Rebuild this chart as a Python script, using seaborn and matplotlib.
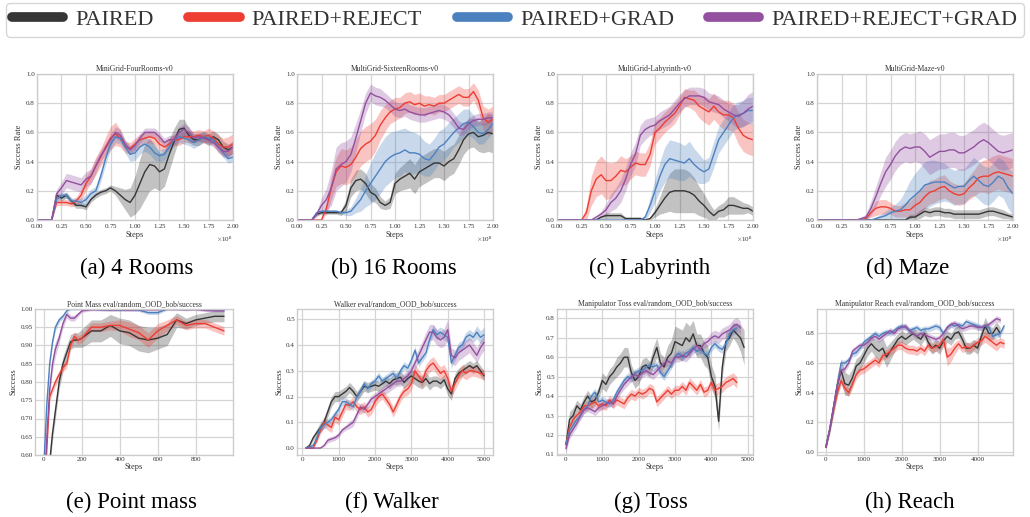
import numpy as np
import pandas as pd
import matplotlib
matplotlib.use("Agg")
import matplotlib.pyplot as plt
import seaborn as sns
from matplotlib.ticker import MultipleLocator, FormatStrFormatter
from matplotlib.lines import Line2D

METHODS = ["PAIRED", "PAIRED+REJECT", "PAIRED+GRAD", "PAIRED+REJECT+GRAD"]
COLORS = ["#363636", "#ee3d33", "#4c81c0", "#92509f"]

# ---------------- top row: steps 0 .. 2e8 every 0.05e8 (41 samples) ----------------
TOP_STEPS = np.linspace(0, 2e8, 41)

A_BLACK = [0, 0, 0, 0, .17, .15, .17, .13, .10, .10,
           .09, .14, .17, .19, .20, .22, .20, .17, .14, .12,
           .17, .25, .33, .38, .37, .33, .35, .45, .54, .62,
           .63, .58, .55, .55, .57, .55, .57, .55, .50, .48, .50]
A_BLACK_SD = [0, 0, 0, 0, .02, .02, .02, .02, .02, .02,
              .02, .02, .02, .02, .02, .02, .03, .05, .07, .10,
              .13, .17, .19, .18, .15, .13, .12, .11, .09, .07,
              .06, .05, .04, .04, .04, .04, .04, .04, .04, .04, .04]
A_RED = [0, 0, 0, 0, .12, .12, .12, .11, .13, .17,
         .25, .30, .37, .43, .50, .56, .59, .56, .50, .49,
         .52, .55, .56, .57, .56, .52, .50, .52, .55, .55,
         .57, .57, .57, .58, .57, .58, .56, .52, .50, .50, .52]
A_RED_SD = [0, 0, 0, 0, .02, .02, .02, .02, .03, .04,
            .05, .05, .06, .06, .07, .08, .08, .06, .04, .04,
            .04, .04, .04, .04, .04, .04, .04, .04, .04, .04,
            .04, .04, .04, .04, .04, .05, .05, .06, .06, .07, .07]
A_BLUE = [0, 0, 0, 0, .14, .17, .17, .13, .13, .12,
          .14, .18, .20, .30, .42, .52, .57, .56, .50, .45,
          .46, .50, .52, .50, .46, .44, .45, .50, .55, .57,
          .56, .55, .53, .55, .57, .56, .55, .50, .46, .42, .43]
A_BLUE_SD = [0, 0, 0, 0, .02, .02, .02, .02, .02, .03,
             .03, .03, .03, .04, .04, .04, .04, .04, .04, .05,
             .05, .05, .05, .05, .05, .04, .04, .04, .04, .04,
             .04, .04, .04, .04, .03, .03, .03, .03, .03, .03, .03]
A_PURPLE = [0, 0, 0, 0, .18, .22, .27, .26, .25, .24,
            .28, .30, .37, .44, .49, .55, .60, .58, .52, .48,
            .51, .56, .60, .60, .60, .57, .53, .55, .55, .60,
            .62, .60, .56, .57, .56, .55, .53, .50, .47, .47, .50]
A_PURPLE_SD = [0, 0, 0, 0, .03, .04, .05, .05, .05, .05,
               .05, .05, .05, .04, .04, .04, .04, .04, .03, .03,
               .03, .03, .03, .03, .03, .03, .03, .03, .03, .04,
               .04, .04, .03, .03, .03, .03, .03, .03, .04, .04, .04]

B_BLACK = [0, 0, 0, 0, .04, .05, .05, .05, .05, .05,
           .10, .22, .27, .28, .25, .19, .17, .12, .10, .12,
           .25, .28, .30, .32, .28, .33, .35, .37, .39, .39,
           .37, .40, .42, .48, .55, .59, .60, .57, .58, .60, .59]
B_BLACK_SD = [0, 0, 0, 0, .01, .01, .01, .01, .01, .02,
              .04, .06, .07, .07, .07, .06, .05, .04, .03, .04,
              .07, .08, .09, .10, .10, .10, .10, .10, .10, .10,
              .10, .10, .10, .10, .10, .10, .10, .10, .12, .13, .13]
B_RED = [0, 0, 0, 0, 0, 0, .08, .22, .33, .37,
         .36, .38, .43, .49, .52, .54, .58, .65, .70, .74,
         .76, .77, .80, .81, .79, .80, .78, .79, .78, .80,
         .80, .82, .84, .86, .84, .84, .88, .82, .70, .67, .69]
B_RED_SD = [0, 0, 0, 0, 0, 0, .04, .08, .10, .12,
            .12, .12, .12, .12, .12, .12, .11, .10, .09, .08,
            .08, .07, .07, .07, .07, .07, .07, .06, .06, .06,
            .06, .06, .06, .06, .06, .06, .06, .07, .08, .09, .09]
B_BLUE = [0, 0, 0, 0, .05, .06, .06, .06, .06, .05,
          .05, .06, .10, .14, .20, .25, .30, .35, .40, .43,
          .45, .46, .48, .46, .46, .45, .42, .41, .45, .50,
          .52, .56, .60, .63, .66, .67, .64, .60, .59, .62, .66]
B_BLUE_SD = [0, 0, 0, 0, .01, .01, .01, .01, .01, .01,
             .02, .03, .05, .08, .11, .14, .16, .17, .17, .17,
             .16, .16, .15, .15, .14, .13, .12, .11, .11, .11,
             .11, .11, .10, .10, .10, .09, .08, .08, .07, .06, .06]
B_PURPLE = [0, 0, 0, 0, .04, .10, .14, .22, .35, .38,
            .40, .45, .56, .68, .80, .87, .85, .84, .82, .79,
            .76, .75, .76, .74, .73, .72, .72, .73, .74, .75,
            .74, .72, .68, .63, .62, .66, .68, .69, .69, .70, .70]
B_PURPLE_SD = [0, 0, 0, 0, .02, .05, .08, .12, .15, .15,
               .14, .12, .10, .08, .07, .06, .06, .06, .05, .05,
               .05, .05, .05, .05, .05, .05, .05, .05, .05, .05,
               .05, .05, .05, .05, .04, .04, .04, .04, .04, .04, .04]

C_BLACK = [0, 0, 0, 0, 0, 0, 0, 0, 0, .02,
           .03, .03, .03, .03, .01, .01, .01, .01, 0, .01,
           .05, .10, .15, .19, .20, .20, .20, .19, .17, .13,
           .10, .06, .03, .06, .07, .10, .10, .09, .08, .08, .06]
C_BLACK_SD = [0, 0, 0, 0, 0, 0, 0, 0, 0, .01,
              .02, .02, .02, .02, .01, .01, .01, .01, 0, .01,
              .03, .06, .10, .13, .15, .15, .15, .14, .12, .10,
              .08, .06, .04, .04, .05, .06, .06, .05, .04, .03, .03]
C_RED = [0, 0, 0, 0, 0, 0, .05, .20, .28, .31,
         .27, .27, .30, .34, .33, .36, .39, .38, .38, .45,
         .60, .63, .67, .70, .73, .78, .84, .83, .82, .78,
         .76, .74, .78, .74, .72, .72, .70, .63, .58, .56, .55]
C_RED_SD = [0, 0, 0, 0, 0, 0, .05, .10, .12, .13,
            .13, .12, .10, .10, .09, .08, .08, .08, .08, .08,
            .08, .07, .07, .07, .07, .06, .06, .06, .07, .08,
            .09, .09, .09, .09, .10, .10, .10, .11, .11, .11, .11]
C_BLUE = [0, 0, 0, 0, 0, 0, 0, 0, 0, 0,
          0, 0, 0, 0, 0, 0, 0, 0, .02, .10,
          .20, .30, .38, .42, .41, .40, .39, .42, .38, .35,
          .33, .35, .45, .55, .60, .65, .70, .72, .73, .75, .75]
C_BLUE_SD = [0, 0, 0, 0, 0, 0, 0, 0, 0, 0,
             0, 0, 0, 0, 0, 0, 0, 0, .02, .05,
             .08, .10, .12, .13, .13, .13, .12, .12, .11, .10,
             .08, .08, .09, .09, .09, .09, .09, .09, .09, .09, .09]
C_PURPLE = [0, 0, 0, 0, 0, 0, 0, 0, .02, .04,
            .07, .12, .15, .20, .28, .38, .45, .58, .62, .64,
            .65, .68, .70, .72, .76, .80, .83, .85, .85, .85,
            .84, .81, .80, .79, .76, .74, .72, .71, .73, .76, .78]
C_PURPLE_SD = [0, 0, 0, 0, 0, 0, 0, 0, .01, .02,
               .04, .06, .07, .08, .08, .08, .08, .07, .07, .06,
               .06, .06, .06, .06, .06, .06, .06, .06, .06, .06,
               .06, .06, .06, .06, .06, .06, .07, .08, .09, .10, .10]

D_BLACK = [0, 0, 0, 0, 0, 0, 0, 0, 0, 0,
           0, 0, 0, 0, 0, 0, 0, 0, 0, .02,
           .02, .04, .06, .05, .06, .06, .05, .05, .04, .04,
           .04, .04, .04, .04, .05, .06, .06, .05, .04, .03, .02]
D_BLACK_SD = [0, 0, 0, 0, 0, 0, 0, 0, 0, 0,
              0, 0, 0, 0, 0, 0, 0, 0, .01, .02,
              .02, .03, .03, .03, .03, .03, .03, .03, .03, .03,
              .03, .03, .03, .03, .03, .03, .03, .03, .03, .02, .02]
D_RED = [0, 0, 0, 0, 0, 0, 0, 0, 0, 0,
         .01, .05, .08, .09, .09, .08, .06, .06, .07, .07,
         .10, .12, .16, .19, .20, .22, .23, .20, .18, .17,
         .18, .22, .25, .29, .30, .30, .32, .33, .32, .31, .30]
D_RED_SD = [0, 0, 0, 0, 0, 0, 0, 0, 0, 0,
            .01, .03, .05, .05, .05, .04, .04, .04, .05, .06,
            .07, .08, .08, .08, .08, .08, .08, .07, .07, .07,
            .07, .08, .09, .10, .11, .12, .12, .12, .12, .12, .12]
D_BLUE = [0, 0, 0, 0, 0, 0, 0, 0, 0, 0,
          0, 0, .01, .02, .03, .05, .06, .07, .10, .14,
          .17, .20, .24, .25, .26, .26, .26, .24, .22, .23,
          .23, .27, .30, .27, .24, .23, .26, .30, .28, .22, .18]
D_BLUE_SD = [0, 0, 0, 0, 0, 0, 0, 0, 0, 0,
             0, 0, .01, .02, .03, .04, .05, .07, .10, .13,
             .15, .16, .16, .16, .15, .14, .13, .12, .12, .12,
             .12, .12, .13, .13, .13, .13, .13, .13, .13, .14, .15]
D_PURPLE = [0, 0, 0, 0, 0, 0, 0, 0, 0, .01,
            .02, .08, .16, .25, .33, .38, .44, .48, .50, .49,
            .50, .50, .47, .43, .45, .47, .47, .48, .48, .46,
            .46, .48, .50, .53, .55, .53, .50, .47, .46, .47, .48]
D_PURPLE_SD = [0, 0, 0, 0, 0, 0, 0, 0, 0, .01,
               .02, .05, .07, .08, .10, .10, .10, .10, .10, .10,
               .10, .11, .12, .12, .12, .12, .12, .12, .12, .12,
               .12, .12, .12, .12, .12, .12, .12, .12, .12, .12, .12]

# ---------------- (e) Point mass ----------------
E_STEPS = [0, 15, 30, 45, 60, 80, 100, 120, 140, 160, 180, 200, 250, 300,
           350, 400, 450, 500, 550, 600, 650, 700, 750, 800, 850, 900, 950]
E_BLACK = [.35, .45, .58, .66, .72, .80, .85, .88, .91, .915, .915, .92, .94, .94,
           .955, .94, .935, .92, .915, .92, .93, .97, .96, .97, .975, .98, .98]
E_BLACK_SD = [.02, .02, .02, .02, .02, .02, .02, .02, .02, .02, .02, .025, .03, .03,
              .03, .035, .035, .035, .035, .03, .03, .02, .015, .015, .015, .015, .015]
E_RED = [.45, .62, .76, .78, .80, .82, .84, .85, .90, .925, .915, .92, .95, .95,
         .955, .955, .945, .935, .915, .94, .955, .97, .955, .96, .96, .95, .94]
E_RED_SD = [.01, .01, .01, .01, .012, .012, .012, .012, .012, .012, .012, .012, .012, .012,
            .012, .015, .02, .02, .02, .02, .015, .012, .012, .012, .012, .012, .012]
E_BLUE = [.58, .74, .85, .91, .95, .97, .98, .995, 1.0, 1.0, 1.0, 1.0, 1.0, .998,
          .998, .997, .998, .997, .99, .99, 1.0, 1.0, 1.0, 1.0, 1.0, .997, .996]
E_BLUE_SD = [.01, .01, .01, .01, .01, .008, .006, .004, .003, .003, .003, .003, .003, .003,
             .003, .003, .003, .004, .005, .005, .003, .003, .003, .003, .003, .003, .003]
E_PURPLE = [.50, .65, .78, .85, .89, .92, .96, .985, .975, .975, .985, .995, .998, .998,
            .997, .998, .997, .998, .998, .998, .999, .999, .998, .999, .996, .995, .995]
E_PURPLE_SD = [.02, .02, .02, .02, .02, .015, .012, .01, .008, .008, .006, .004, .003, .003,
               .003, .003, .003, .003, .003, .003, .003, .003, .003, .003, .003, .003, .003]

# ---------------- (f) Walker ----------------
F_STEPS = list(range(100, 5001, 100))
F_BLACK = [0, .01, .04, .06, .08, .10, .14, .18, .20, .20,
           .21, .22, .235, .22, .20, .22, .24, .235, .24, .245,
           .24, .25, .26, .25, .265, .27, .275, .255, .27, .28,
           .27, .26, .255, .27, .25, .26, .26, .25, .265, .23,
           .21, .27, .29, .30, .31, .32, .31, .32, .30, .28]
F_BLACK_SD = [0, .005, .01, .015, .02, .02, .02, .02, .02, .02,
              .02, .02, .02, .02, .02, .02, .02, .02, .02, .02,
              .02, .02, .02, .02, .02, .025, .025, .025, .025, .025,
              .025, .025, .025, .025, .025, .02, .02, .02, .02, .025,
              .025, .02, .02, .02, .02, .02, .02, .02, .02, .02]
F_RED = [0, 0, 0, .03, .07, .10, .09, .08, .12, .11,
         .14, .17, .165, .18, .16, .15, .16, .14, .15, .18,
         .20, .21, .19, .17, .14, .17, .20, .22, .23, .25,
         .30, .28, .26, .30, .32, .33, .31, .29, .30, .27,
         .22, .25, .28, .30, .29, .30, .30, .295, .29, .285]
F_RED_SD = [0, 0, 0, .01, .015, .02, .02, .02, .02, .02,
            .02, .02, .02, .02, .02, .02, .02, .02, .02, .02,
            .02, .02, .02, .02, .02, .02, .02, .02, .025, .025,
            .025, .025, .025, .025, .025, .025, .025, .025, .025, .025,
            .025, .025, .025, .025, .025, .025, .02, .02, .02, .02]
F_BLUE = [0, .005, .01, .04, .08, .09, .10, .11, .13, .15,
          .18, .18, .17, .16, .20, .22, .25, .23, .25, .26,
          .28, .26, .27, .28, .29, .27, .30, .32, .31, .34,
          .38, .33, .35, .37, .42, .46, .44, .45, .44, .43,
          .33, .36, .39, .40, .43, .44, .43, .45, .43, .44]
F_BLUE_SD = [0, .005, .01, .01, .015, .015, .015, .015, .015, .015,
             .015, .015, .015, .015, .015, .015, .015, .015, .015, .015,
             .015, .015, .015, .015, .015, .015, .015, .015, .015, .015,
             .015, .015, .015, .015, .02, .02, .02, .02, .02, .02,
             .02, .02, .02, .02, .02, .02, .02, .025, .025, .03]
F_PURPLE = [0, 0, 0, 0, 0, .01, .03, .035, .04, .05,
            .07, .08, .09, .10, .13, .16, .15, .17, .19, .20,
            .21, .22, .23, .24, .25, .26, .26, .27, .28, .30,
            .33, .36, .39, .42, .45, .45, .43, .42, .43, .46,
            .36, .35, .37, .38, .39, .40, .38, .36, .39, .41]
F_PURPLE_SD = [0, 0, 0, 0, 0, .005, .01, .01, .01, .01,
               .01, .01, .015, .015, .015, .015, .015, .015, .015, .015,
               .015, .015, .02, .02, .02, .02, .02, .02, .02, .02,
               .025, .025, .025, .03, .03, .03, .03, .03, .035, .04,
               .03, .03, .03, .03, .03, .03, .03, .03, .03, .03]

# ---------------- (g) Toss ----------------
G_STEPS = list(range(0, 4901, 100))
G_BLACK = [.15, .28, .30, .35, .33, .37, .40, .37, .38, .42,
           .48, .46, .50, .52, .55, .57, .60, .60, .52, .48,
           .50, .55, .56, .54, .60, .65, .57, .55, .60, .62,
           .68, .67, .66, .70, .68, .72, .66, .66, .62, .60,
           .50, .45, .27, .55, .68, .70, .74, .72, .70, .65]
G_BLACK_SD = [.03, .04, .04, .03, .03, .03, .03, .03, .03, .03,
              .04, .04, .04, .04, .05, .05, .05, .05, .04, .04,
              .04, .04, .04, .04, .05, .05, .05, .05, .06, .07,
              .08, .08, .08, .08, .08, .07, .06, .06, .06, .06,
              .06, .06, .05, .05, .05, .04, .04, .05, .07, .09]
G_RED = [.15, .24, .28, .30, .32, .35, .35, .36, .37, .35,
         .36, .35, .38, .36, .38, .37, .36, .39, .41, .40,
         .42, .41, .42, .44, .43, .37, .39, .41, .43, .41,
         .43, .43, .45, .43, .47, .45, .43, .46, .42, .43,
         .47, .43, .44, .45, .47, .48, .49, .47]
G_RED_SD = [.02, .02, .02, .02, .02, .025, .025, .025, .025, .025,
            .025, .025, .025, .025, .025, .025, .025, .025, .025, .025,
            .025, .025, .025, .025, .025, .025, .025, .025, .025, .025,
            .025, .025, .025, .025, .025, .025, .025, .025, .025, .025,
            .03, .03, .03, .03, .03, .03, .03, .03]
G_BLUE = [.15, .22, .25, .28, .30, .33, .35, .40, .42, .37,
          .38, .37, .36, .38, .42, .45, .48, .50, .49, .52,
          .53, .53, .55, .56, .55, .56, .52, .50, .53, .56,
          .60, .62, .60, .62, .63, .65, .63, .64, .62, .61,
          .65, .67, .65, .64, .67, .72, .74, .75]
G_BLUE_SD = [.02, .02, .02, .02, .02, .02, .02, .02, .02, .02,
             .02, .02, .02, .02, .02, .02, .02, .02, .02, .02,
             .02, .02, .02, .02, .02, .02, .02, .02, .02, .02,
             .02, .02, .02, .02, .02, .02, .02, .02, .02, .02,
             .02, .02, .02, .02, .025, .025, .025, .025]
G_PURPLE = [.13, .20, .23, .26, .30, .33, .34, .33, .32, .34,
            .35, .36, .37, .36, .40, .43, .46, .48, .50, .51,
            .50, .52, .53, .52, .51, .53, .55, .57, .58, .57,
            .60, .60, .61, .60, .62, .64, .66, .64, .67, .68,
            .70, .71, .70, .72, .73, .74, .76, .77, .75]
G_PURPLE_SD = [.02, .02, .02, .02, .02, .02, .02, .02, .02, .02,
               .02, .02, .02, .02, .02, .02, .025, .025, .025, .025,
               .025, .025, .025, .025, .025, .025, .025, .025, .025, .025,
               .025, .025, .025, .025, .025, .025, .025, .025, .025, .025,
               .03, .03, .03, .03, .03, .03, .035, .035, .035]

# ---------------- (h) Reach ----------------
H_STEPS = list(range(0, 4701, 100))
H_BLACK = [.03, .15, .30, .45, .55, .46, .45, .50, .58, .60,
           .65, .70, .73, .70, .68, .70, .64, .68, .72, .76,
           .78, .76, .78, .80, .78, .76, .80, .74, .70, .72,
           .70, .75, .78, .76, .80, .81, .76, .70, .70, .72,
           .70, .78, .85, .80, .80, .84, .80]
H_BLACK_SD = [.01, .03, .05, .07, .08, .08, .07, .06, .05, .05,
              .05, .05, .05, .06, .07, .07, .07, .06, .05, .04,
              .04, .04, .04, .04, .04, .04, .04, .04, .04, .04,
              .04, .04, .04, .04, .04, .04, .04, .04, .04, .04,
              .04, .05, .06, .05, .04, .04, .04]
H_RED = [.03, .15, .28, .40, .48, .43, .40, .46, .52, .55,
         .56, .58, .60, .62, .60, .65, .66, .68, .70, .72,
         .72, .70, .69, .69, .68, .70, .68, .72, .70, .71,
         .72, .76, .64, .66, .70, .73, .70, .71, .70, .72,
         .74, .75, .78, .76, .74, .72, .74, .73]
H_RED_SD = [.01, .02, .03, .03, .03, .03, .03, .03, .03, .03,
            .03, .03, .03, .03, .03, .03, .03, .03, .03, .03,
            .03, .03, .03, .03, .03, .03, .03, .03, .03, .03,
            .03, .04, .06, .05, .04, .03, .03, .03, .03, .03,
            .03, .03, .04, .04, .04, .04, .03, .03]
H_BLUE = [.04, .15, .30, .45, .60, .60, .62, .66, .67, .70,
          .74, .76, .78, .80, .78, .80, .81, .80, .82, .84,
          .85, .84, .82, .83, .84, .82, .83, .83, .84, .85,
          .84, .80, .84, .86, .85, .86, .85, .88, .87, .86,
          .85, .84, .85, .84, .78, .79, .80, .85]
H_BLUE_SD = [.01, .015, .02, .02, .02, .02, .02, .02, .02, .02,
             .02, .02, .02, .02, .02, .02, .02, .02, .02, .02,
             .02, .02, .02, .02, .02, .02, .02, .02, .02, .02,
             .02, .02, .02, .02, .02, .02, .02, .02, .02, .02,
             .02, .02, .02, .02, .02, .02, .02, .02]
H_PURPLE = [.03, .15, .30, .45, .55, .56, .60, .68, .70, .72,
            .72, .74, .77, .78, .76, .78, .80, .82, .80, .83,
            .84, .85, .82, .80, .78, .80, .79, .78, .77, .76,
            .77, .80, .84, .86, .87, .85, .83, .84, .85, .85,
            .84, .84, .85, .86, .88, .90, .89]
H_PURPLE_SD = [.01, .015, .02, .02, .02, .02, .02, .02, .02, .02,
               .02, .02, .02, .02, .02, .02, .02, .02, .02, .02,
               .02, .02, .02, .02, .02, .02, .02, .02, .02, .02,
               .02, .02, .02, .02, .02, .02, .02, .02, .02, .02,
               .02, .02, .02, .02, .02, .02, .02]

PANELS = [
    dict(title="MiniGrid-FourRooms-v0", caption="(a) 4 Rooms", steps=TOP_STEPS,
         series=[(A_BLACK, A_BLACK_SD), (A_RED, A_RED_SD), (A_BLUE, A_BLUE_SD), (A_PURPLE, A_PURPLE_SD)]),
    dict(title="MultiGrid-SixteenRooms-v0", caption="(b) 16 Rooms", steps=TOP_STEPS,
         series=[(B_BLACK, B_BLACK_SD), (B_RED, B_RED_SD), (B_BLUE, B_BLUE_SD), (B_PURPLE, B_PURPLE_SD)]),
    dict(title="MultiGrid-Labyrinth-v0", caption="(c) Labyrinth", steps=TOP_STEPS,
         series=[(C_BLACK, C_BLACK_SD), (C_RED, C_RED_SD), (C_BLUE, C_BLUE_SD), (C_PURPLE, C_PURPLE_SD)]),
    dict(title="MultiGrid-Maze-v0", caption="(d) Maze", steps=TOP_STEPS,
         series=[(D_BLACK, D_BLACK_SD), (D_RED, D_RED_SD), (D_BLUE, D_BLUE_SD), (D_PURPLE, D_PURPLE_SD)]),
    dict(title="Point Mass eval/random_OOD_bob/success", caption="(e) Point mass", steps=E_STEPS,
         series=[(E_BLACK, E_BLACK_SD), (E_RED, E_RED_SD), (E_BLUE, E_BLUE_SD), (E_PURPLE, E_PURPLE_SD)]),
    dict(title="Walker eval/random_OOD_bob/success", caption="(f) Walker", steps=F_STEPS,
         series=[(F_BLACK, F_BLACK_SD), (F_RED, F_RED_SD), (F_BLUE, F_BLUE_SD), (F_PURPLE, F_PURPLE_SD)]),
    dict(title="Manipulator Toss eval/random_OOD_bob/success", caption="(g) Toss", steps=G_STEPS,
         series=[(G_BLACK, G_BLACK_SD), (G_RED, G_RED_SD), (G_BLUE, G_BLUE_SD), (G_PURPLE, G_PURPLE_SD)]),
    dict(title="Manipulator Reach eval/random_OOD_bob/success", caption="(h) Reach", steps=H_STEPS,
         series=[(H_BLACK, H_BLACK_SD), (H_RED, H_RED_SD), (H_BLUE, H_BLUE_SD), (H_PURPLE, H_PURPLE_SD)]),
]

sns.set_theme(style="whitegrid")
plt.rcParams.update({
    "font.family": "serif",
    "font.serif": ["Liberation Serif", "DejaVu Serif"],
    "mathtext.fontset": "cm",
    "axes.edgecolor": "#cccccc",
    "axes.linewidth": 1.0,
    "grid.color": "#d5d5d5",
    "grid.linewidth": 0.9,
    "text.color": "#333333",
    "xtick.color": "#333333",
    "ytick.color": "#333333",
    "axes.labelcolor": "#333333",
})

W, H = 1030, 517
fig = plt.figure(figsize=(W / 100, H / 100), dpi=100)

# pixel boxes: (left, top, right, bottom)
BOXES = [(37, 74, 233, 220), (297, 74, 493, 220), (557, 74, 753, 220), (817, 74, 1013, 220),
         (35, 309, 233, 455), (297, 309, 493, 455), (557, 309, 753, 455), (817, 309, 1013, 455)]
CAP_POS = [(137, 268), (394, 268), (650, 268), (908, 268),
           (131, 502), (392, 502), (651, 502), (910, 502)]

for i, (p, box) in enumerate(zip(PANELS, BOXES)):
    l, t, r, b = box
    ax = fig.add_axes([l / W, 1 - b / H, (r - l) / W, (b - t) / H])
    steps = np.asarray(p["steps"], dtype=float)
    for (mean, sd), col, name in zip(p["series"], COLORS, METHODS):
        mean = np.asarray(mean, dtype=float)
        sd = np.asarray(sd, dtype=float)
        x = steps[:len(mean)]
        ax.fill_between(x, mean - sd, mean + sd, color=col, alpha=0.3, linewidth=0)
        df = pd.DataFrame({"Steps": x, "value": mean})
        sns.lineplot(data=df, x="Steps", y="value", color=col, linewidth=1.0, ax=ax, legend=False)
    ax.set_title(p["title"], fontsize=5.5, pad=2)
    ax.set_xlabel("Steps", fontsize=6, labelpad=0.5)
    ax.tick_params(labelsize=5, pad=1.5, length=0)
    if i < 4:
        ax.set_ylabel("Success Rate", fontsize=6, labelpad=2)
        ax.set_xlim(0, 2e8)
        ax.set_ylim(0, 1.0)
        ax.xaxis.set_major_locator(MultipleLocator(0.25e8))
        ax.yaxis.set_major_locator(MultipleLocator(0.2))
        ax.ticklabel_format(axis="x", style="sci", scilimits=(0, 0), useMathText=True)
        ax.xaxis.get_offset_text().set_fontsize(5)
        ax.yaxis.set_major_formatter(FormatStrFormatter("%.1f"))
    else:
        ax.set_ylabel("Success", fontsize=6, labelpad=2)
    if i == 4:
        ax.set_xlim(-47.5, 997.5)
        ax.set_ylim(0.6, 1.0)
        ax.xaxis.set_major_locator(MultipleLocator(200))
        ax.yaxis.set_major_locator(MultipleLocator(0.05))
        ax.yaxis.set_major_formatter(FormatStrFormatter("%.2f"))
    elif i == 5:
        ax.set_xlim(-145, 5245)
        ax.set_ylim(-0.027, 0.54)
        ax.xaxis.set_major_locator(MultipleLocator(1000))
        ax.yaxis.set_major_locator(MultipleLocator(0.1))
        ax.yaxis.set_major_formatter(FormatStrFormatter("%.1f"))
    elif i == 6:
        ax.set_xlim(-245, 5145)
        ax.set_ylim(0.097, 0.848)
        ax.xaxis.set_major_locator(MultipleLocator(1000))
        ax.yaxis.set_major_locator(MultipleLocator(0.1))
        ax.yaxis.set_major_formatter(FormatStrFormatter("%.1f"))
    elif i == 7:
        ax.set_xlim(-235, 4935)
        ax.set_ylim(-0.022, 0.965)
        ax.xaxis.set_major_locator(MultipleLocator(1000))
        ax.yaxis.set_major_locator(MultipleLocator(0.2))
        ax.yaxis.set_major_formatter(FormatStrFormatter("%.1f"))
    cx, cy = CAP_POS[i]
    fig.text(cx / W, 1 - cy / H, p["caption"], ha="center", va="center",
             fontsize=16.5, color="black", family="Liberation Serif")

handles = [Line2D([], [], color=c, linewidth=7, solid_capstyle="round") for c in COLORS]
leg = fig.legend(handles, METHODS, loc="upper center", bbox_to_anchor=(0.5, 1 - 3 / H),
                 ncol=4, frameon=True, fontsize=16, handlelength=2.3, handletextpad=0.55,
                 columnspacing=1.55, borderaxespad=0, borderpad=0.3, fancybox=True)
leg.get_frame().set_edgecolor("#cccccc")
leg.get_frame().set_linewidth(1.0)

fig.savefig("out.png", dpi=100)
